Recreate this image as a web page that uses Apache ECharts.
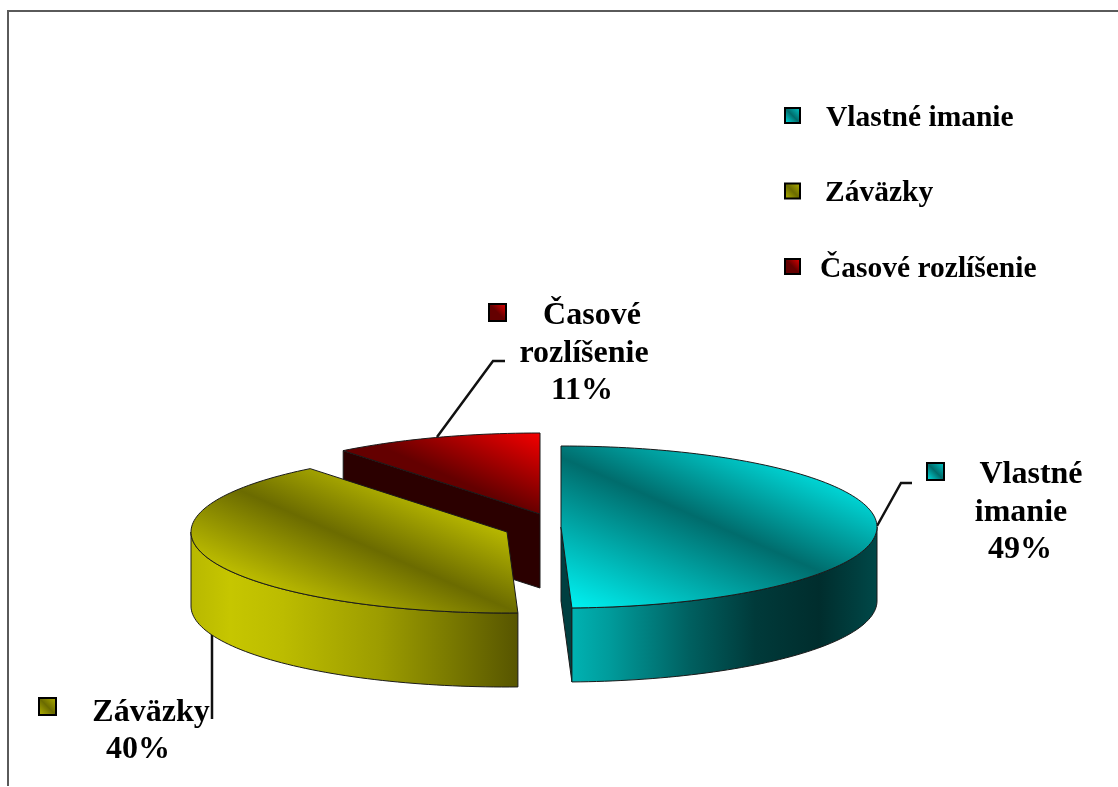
<!DOCTYPE html>
<html>
<head>
<meta charset="utf-8">
<title>Pie</title>
<script src="https://cdn.jsdelivr.net/npm/echarts@6/dist/echarts.min.js"></script>
<style>
  html, body { margin: 0; padding: 0; background: #fff; }
  #main { width: 1118px; height: 787px; }
</style>
</head>
<body>
<div id="main"></div>
<script>
// data
var categories = ['Vlastné imanie', 'Záväzky', 'Časové rozlíšenie'];
var labelNames = [['Vlastné', 'imanie'], ['Záväzky'], ['Časové', 'rozlíšenie']];
var shares = [49.45, 39.85, 10.7];

// look of each slice, same order as the data
var sliceStyle = [
  {
    center: [561, 527], low: '#00f2f2', dark: '#006c6c', high: '#00d4d4', face: '#003f40',
    wall: [[0, '#00b2b2'], [0.12, '#009c9c'], [0.39, '#005f5f'], [0.6, '#003a3a'], [0.81, '#002d2d'], [1, '#004848']],
    leader: [[877, 526], [901, 483], [912, 483]],
    marker: [926, 462, 19],
    lines: [[1031, 475], [1021, 513], [1020, 550]]
  },
  {
    center: [507, 532], low: '#bcbc00', dark: '#6b6b00', high: '#b8b800', face: '#3a3a00',
    wall: [[0, '#b8b800'], [0.12, '#c6c600'], [0.28, '#bcbc00'], [0.58, '#9c9c00'], [0.79, '#7a7a00'], [1, '#575500']],
    leader: [[212, 620], [212, 719]],
    marker: [38, 697, 19],
    lines: [[151, 713], [138, 750]]
  },
  {
    center: [540, 514], low: '#640000', dark: '#640000', high: '#f40000', face: '#2b0000',
    wall: [[0, '#f00000'], [1, '#5c0000']],
    leader: [[437, 437], [493, 361], [505, 361]],
    marker: [488, 303, 19],
    lines: [[592, 316], [584, 354], [582, 391]]
  }
];
var radiusX = 316;
var radiusY = 81;
var depth = 74;
var serifFont = '"Liberation Serif", "Times New Roman", serif';

// start and end angle of the slices, clockwise from 12 o'clock
var total = shares.reduce(function (a, b) { return a + b; }, 0);
var angles = [];
var acc = 0;
shares.forEach(function (v) {
  angles.push([acc / total * 360, (acc + v) / total * 360]);
  acc += v;
});

function rim(c, deg, dy) {
  var r = deg * Math.PI / 180;
  return [c[0] + radiusX * Math.sin(r), c[1] - radiusY * Math.cos(r) + (dy || 0)];
}

function arc(c, from, to, dy) {
  var pts = [];
  var n = Math.max(2, Math.ceil(Math.abs(to - from) / 1.5));
  for (var i = 0; i <= n; i++) {
    pts.push(rim(c, from + (to - from) * i / n, dy));
  }
  return pts;
}

// gradient with the dark band through the middle of the bounding box
function bandGradient(points, s) {
  var dir = [0.403, -0.915];
  var xs = points.map(function (p) { return p[0]; });
  var ys = points.map(function (p) { return p[1]; });
  var mid = [(Math.min.apply(null, xs) + Math.max.apply(null, xs)) / 2, (Math.min.apply(null, ys) + Math.max.apply(null, ys)) / 2];
  var proj = points.map(function (p) { return (p[0] - mid[0]) * dir[0] + (p[1] - mid[1]) * dir[1]; });
  var lo = Math.min.apply(null, proj);
  var hi = Math.max.apply(null, proj);
  return new echarts.graphic.LinearGradient(mid[0] + dir[0] * lo, mid[1] + dir[1] * lo, mid[0] + dir[0] * hi, mid[1] + dir[1] * hi, [
    { offset: 0, color: s.low },
    { offset: -lo / (hi - lo), color: s.dark },
    { offset: 1, color: s.high }
  ], true);
}

function markerGradient(s) {
  return new echarts.graphic.LinearGradient(0, 1, 1, 0, [
    { offset: 0, color: s.low },
    { offset: 0.5, color: s.dark },
    { offset: 1, color: s.high }
  ]);
}

function renderSlice(idx) {
  var s = sliceStyle[idx];
  var a0 = angles[idx][0];
  var a1 = angles[idx][1];
  var c = s.center;
  var kids = [];
  var outline = { stroke: '#1a1a1a', lineWidth: 1 };

  // leader line stays behind the pie
  kids.push({
    type: 'polyline',
    shape: { points: s.leader },
    style: { stroke: '#111', lineWidth: 2.5, fill: null }
  });

  function cutFace(deg) {
    var r = rim(c, deg);
    kids.push({
      type: 'polygon',
      shape: { points: [c, r, [r[0], r[1] + depth], [c[0], c[1] + depth]] },
      style: Object.assign({ fill: s.face }, outline)
    });
  }
  if (Math.sin(a0 * Math.PI / 180) < -0.001) cutFace(a0);
  if (Math.sin(a1 * Math.PI / 180) > 0.001) cutFace(a1);

  // outer wall, only the front half can be seen
  var w0 = Math.max(a0, 90);
  var w1 = Math.min(a1, 270);
  if (w1 > w0) {
    var upper = arc(c, w0, w1, 0);
    var lower = arc(c, w0, w1, depth).reverse();
    var wx = upper.map(function (p) { return p[0]; });
    kids.push({
      type: 'polygon',
      shape: { points: upper.concat(lower) },
      style: Object.assign({
        fill: new echarts.graphic.LinearGradient(Math.min.apply(null, wx), 0, Math.max.apply(null, wx), 0,
          s.wall.map(function (st) { return { offset: st[0], color: st[1] }; }), true)
      }, outline)
    });
  }

  // top
  var top = [c].concat(arc(c, a0, a1, 0));
  kids.push({
    type: 'polygon',
    shape: { points: top },
    style: Object.assign({ fill: bandGradient(top, s) }, outline)
  });

  // data label
  kids.push({
    type: 'rect',
    shape: { x: s.marker[0] + 1, y: s.marker[1] + 1, width: s.marker[2] - 2, height: s.marker[2] - 2 },
    style: { fill: markerGradient(s), stroke: '#000', lineWidth: 2 }
  });
  var texts = labelNames[idx].concat([Math.round(shares[idx] / total * 100) + '%']);
  texts.forEach(function (t, i) {
    kids.push({
      type: 'text',
      x: s.lines[i][0],
      y: s.lines[i][1],
      style: {
        text: t,
        font: 'bold 32px ' + serifFont,
        fill: '#000',
        align: 'center',
        verticalAlign: 'middle'
      }
    });
  });
  return { type: 'group', children: kids };
}

var chart = echarts.init(document.getElementById('main'), null, { renderer: 'canvas' });

// back to front: red, yellow, teal
var series = [2, 1, 0].map(function (idx) {
  return {
    type: 'custom',
    name: categories[idx],
    coordinateSystem: 'none',
    silent: true,
    itemStyle: { color: sliceStyle[idx].high },
    data: [[shares[idx]]],
    renderItem: function () { return renderSlice(idx); }
  };
});

var legendPad = [21, 20, 15];
var legendRich = {};
legendPad.forEach(function (pad, i) {
  legendRich['t' + i] = {
    fontFamily: serifFont,
    fontWeight: 'bold',
    fontSize: 29.5,
    color: '#000',
    padding: [5, 0, 0, pad]
  };
});

chart.setOption({
  backgroundColor: '#fff',
  animation: false,
  legend: {
    orient: 'vertical',
    left: 784,
    top: 103,
    padding: 0,
    itemWidth: 15,
    itemHeight: 15,
    itemGap: 45.5,
    selectedMode: false,
    icon: 'rect',
    formatter: function (name) {
      return '{t' + categories.indexOf(name) + '|' + name + '}';
    },
    textStyle: { rich: legendRich },
    data: categories.map(function (name, i) {
      return {
        name: name,
        itemStyle: { color: markerGradient(sliceStyle[i]), borderColor: '#000', borderWidth: 2 }
      };
    })
  },
  graphic: [
    { type: 'line', silent: true, shape: { x1: 7, y1: 11, x2: 1118, y2: 11 }, style: { stroke: '#5a5a5a', lineWidth: 2 } },
    { type: 'line', silent: true, shape: { x1: 8, y1: 10, x2: 8, y2: 786 }, style: { stroke: '#5a5a5a', lineWidth: 2 } }
  ],
  series: series
});
</script>
</body>
</html>
